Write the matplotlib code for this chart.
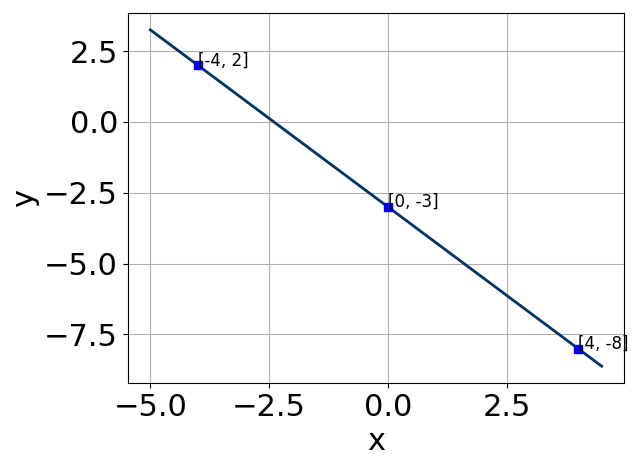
import matplotlib
matplotlib.use('Agg')
import matplotlib.pyplot as plt
from matplotlib.ticker import MultipleLocator

# line y = -1.25x - 3
line_x = [-5, 4.5]
line_y = [3.25, -8.625]
pts_x = [-4, 0, 4]
pts_y = [2, -3, -8]
labels = ['[-4, 2]', '[0, -3]', '[4, -8]']

fig, ax = plt.subplots(figsize=(6.39, 4.66), dpi=100)
ax.plot(line_x, line_y, color='#003366', linewidth=2)
ax.plot(pts_x, pts_y, 's', color='blue', markersize=6)
for x, y, t in zip(pts_x, pts_y, labels):
    ax.text(x, y, t, fontsize=12)
ax.set_xlabel('x', fontsize=22)
ax.set_ylabel('y', fontsize=22)
ax.tick_params(labelsize=22)
ax.yaxis.set_major_locator(MultipleLocator(2.5))
ax.grid(True)
fig.subplots_adjust(left=0.200, right=0.977, top=0.972, bottom=0.178)
fig.savefig('out.png')
